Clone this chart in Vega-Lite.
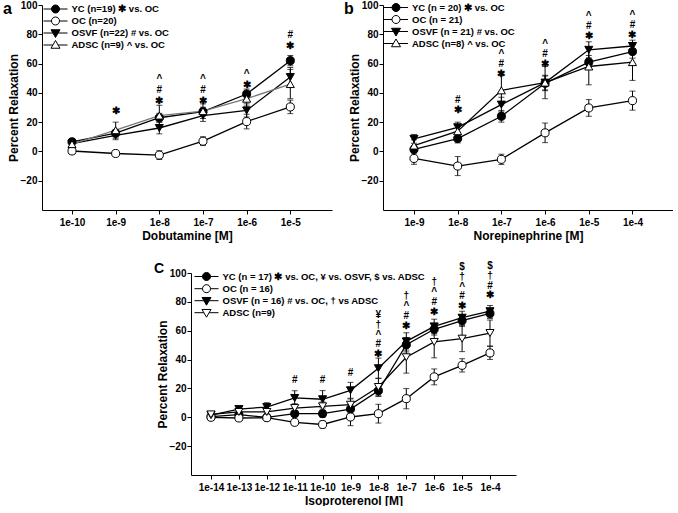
{
  "$schema": "https://vega.github.io/schema/vega-lite/v6.json",
  "background": "white",
  "padding": {"left": 3, "top": 0, "right": 0, "bottom": 0},
  "spacing": 20,
  "vconcat": [
    {
      "hconcat": [
        {
          "width": 290, "height": 205,
          "title": {"text": "a", "dx": -4, "offset": -17},
          "data": {"values": [
            {"g": "YC", "x": -10, "v": 6.6, "e": 1}, {"g": "YC", "x": -9, "v": 12.5, "e": 2.5}, {"g": "YC", "x": -8, "v": 23, "e": 3}, {"g": "YC", "x": -7, "v": 27.2, "e": 3}, {"g": "YC", "x": -6, "v": 39.2, "e": 3.4}, {"g": "YC", "x": -5, "v": 62, "e": 3.5},
            {"g": "OC", "x": -10, "v": 0.3, "e": 1}, {"g": "OC", "x": -9, "v": -1.4, "e": 2}, {"g": "OC", "x": -8, "v": -2.5, "e": 3}, {"g": "OC", "x": -7, "v": 7, "e": 3}, {"g": "OC", "x": -6, "v": 20.4, "e": 5}, {"g": "OC", "x": -5, "v": 30.4, "e": 4.6},
            {"g": "OSVF", "x": -10, "v": 5.4, "e": 1}, {"g": "OSVF", "x": -9, "v": 11, "e": 3}, {"g": "OSVF", "x": -8, "v": 16, "e": 4}, {"g": "OSVF", "x": -7, "v": 24.5, "e": 4}, {"g": "OSVF", "x": -6, "v": 28, "e": 4.5}, {"g": "OSVF", "x": -5, "v": 50.8, "e": 6.5},
            {"g": "ADSC", "x": -10, "v": 5, "e": 1.5}, {"g": "ADSC", "x": -9, "v": 14.5, "e": 5.5}, {"g": "ADSC", "x": -8, "v": 24.5, "e": 7}, {"g": "ADSC", "x": -7, "v": 27.5, "e": 5}, {"g": "ADSC", "x": -6, "v": 36, "e": 5}, {"g": "ADSC", "x": -5, "v": 46, "e": 10}
          ]},
          "encoding": {
            "x": {"field": "x", "type": "quantitative", "scale": {"domain": [-10.687, -4.045], "nice": false, "zero": false}, "axis": {"values": [-10, -9, -8, -7, -6, -5], "labelExpr": "'1e' + datum.value", "title": "Dobutamine [M]"}},
            "y": {"field": "v", "type": "quantitative", "scale": {"domain": [-40, 100], "nice": false, "zero": false}, "axis": {"values": [-20, 0, 20, 40, 60, 80, 100], "labelOverlap": false, "title": "Percent Relaxation"}}
          },
          "layer": [
            {
              "mark": {"type": "errorbar", "ticks": {"size": 6}, "color": "black"},
              "encoding": {"yError": {"field": "e"}}
            },
            {
              "mark": {"type": "line", "strokeWidth": 1.3},
              "encoding": {
                "detail": {"field": "g"},
                "stroke": {"field": "g", "type": "nominal", "scale": {"domain": ["YC", "OC", "OSVF", "ADSC"], "range": ["black", "black", "black", "#777777"]}, "legend": null}
              }
            },
            {
              "mark": {"type": "point", "filled": true, "stroke": "black", "strokeWidth": 1, "size": 65, "opacity": 1},
              "encoding": {
                "shape": {"field": "g", "type": "nominal", "scale": {"domain": ["YC", "OC", "OSVF", "ADSC"], "range": ["circle", "circle", "triangle-down", "triangle-up"]}, "legend": null},
                "fill": {"field": "g", "type": "nominal", "scale": {"domain": ["YC", "OC", "OSVF", "ADSC"], "range": ["black", "white", "black", "white"]}, "legend": null}
              }
            },
            {
              "mark": {"type": "point", "filled": true, "stroke": "black", "strokeWidth": 1, "opacity": 0},
              "encoding": {
                "shape": {"field": "g", "type": "nominal", "scale": {"domain": ["YC", "OC", "OSVF", "ADSC"], "range": ["M-2.67,0H-0.89M0.89,0H2.67M-0.89,0A0.89,0.89,0,1,1,0.89,0A0.89,0.89,0,1,1,-0.89,0Z", "M-2.67,0H-0.89M0.89,0H2.67M-0.89,0A0.89,0.89,0,1,1,0.89,0A0.89,0.89,0,1,1,-0.89,0Z", "M-2.67,0H-0.58M0.58,0H2.67M-1,-0.72L1,-0.72L0,1Z", "M-2.67,0H-0.58M0.58,0H2.67M-1,0.72L1,0.72L0,-1Z"]},
                  "legend": {"orient": "none", "legendX": 8.5, "legendY": -1, "title": null, "symbolSize": 81, "symbolOpacity": 1, "symbolStrokeWidth": 1, "labelOffset": 11, "rowPadding": -2.2, "padding": 0, "labelFontSize": 9.5, "labelFontWeight": "bold", "labelColor": "black", "labelLimit": 400,
                    "labelExpr": "{'YC':'YC (n=19) ✱ vs. OC','OC':'OC (n=20)','OSVF':'OSVF (n=22) # vs. OC','ADSC':'ADSC (n=9) ^ vs. OC'}[datum.label]"}},
                "fill": {"field": "g", "type": "nominal", "scale": {"domain": ["YC", "OC", "OSVF", "ADSC"], "range": ["black", "white", "black", "white"]},
                  "legend": {"orient": "none", "legendX": 8.5, "legendY": -1, "title": null, "symbolSize": 81, "symbolOpacity": 1, "symbolStrokeWidth": 1, "labelOffset": 11, "rowPadding": -2.2, "padding": 0, "labelFontSize": 9.5, "labelFontWeight": "bold", "labelColor": "black", "labelLimit": 400,
                    "labelExpr": "{'YC':'YC (n=19) ✱ vs. OC','OC':'OC (n=20)','OSVF':'OSVF (n=22) # vs. OC','ADSC':'ADSC (n=9) ^ vs. OC'}[datum.label]"}}
              }
            },
            {
              "data": {"values": [
                {"x": -9, "v": 31, "t": "✱"},
                {"x": -8, "v": 53.1, "t": "^\n#\n✱"},
                {"x": -7, "v": 53.1, "t": "^\n#\n✱"},
                {"x": -6, "v": 56.5, "t": "^\n✱"},
                {"x": -5, "v": 82.9, "t": "#\n✱"}
              ]},
              "mark": {"type": "text", "baseline": "top", "align": "center", "fontSize": 10, "fontWeight": "bold", "lineBreak": "\n", "lineHeight": 11, "color": "black"},
              "encoding": {"text": {"field": "t"}}
            }
          ],
          "resolve": {"scale": {"shape": "independent", "fill": "independent"}}
        },
        {
          "width": 290, "height": 205,
          "title": {"text": "b", "dx": -4, "offset": -17},
          "data": {"values": [
            {"g": "YC", "x": -9, "v": 1.4, "e": 2.5}, {"g": "YC", "x": -8, "v": 8.8, "e": 3}, {"g": "YC", "x": -7, "v": 24, "e": 4}, {"g": "YC", "x": -6, "v": 46.5, "e": 5}, {"g": "YC", "x": -5, "v": 61, "e": 4.5}, {"g": "YC", "x": -4, "v": 68.2, "e": 4.5},
            {"g": "OC", "x": -9, "v": -4.8, "e": 4}, {"g": "OC", "x": -8, "v": -10, "e": 6.5}, {"g": "OC", "x": -7, "v": -5.4, "e": 3.5}, {"g": "OC", "x": -6, "v": 12.7, "e": 6.7}, {"g": "OC", "x": -5, "v": 29.7, "e": 5.7}, {"g": "OC", "x": -4, "v": 34.7, "e": 6.5},
            {"g": "OSVF", "x": -9, "v": 8.6, "e": 3}, {"g": "OSVF", "x": -8, "v": 16.5, "e": 3.5}, {"g": "OSVF", "x": -7, "v": 32, "e": 5}, {"g": "OSVF", "x": -6, "v": 47, "e": 5}, {"g": "OSVF", "x": -5, "v": 69.4, "e": 5.5}, {"g": "OSVF", "x": -4, "v": 72, "e": 4},
            {"g": "ADSC", "x": -9, "v": 4, "e": 4}, {"g": "ADSC", "x": -8, "v": 13.8, "e": 4}, {"g": "ADSC", "x": -7, "v": 41.7, "e": 10}, {"g": "ADSC", "x": -6, "v": 47, "e": 11}, {"g": "ADSC", "x": -5, "v": 58, "e": 12.5}, {"g": "ADSC", "x": -4, "v": 61, "e": 12.5}
          ]},
          "encoding": {
            "x": {"field": "x", "type": "quantitative", "scale": {"domain": [-9.709, -3.073], "nice": false, "zero": false}, "axis": {"values": [-9, -8, -7, -6, -5, -4], "labelExpr": "'1e' + datum.value", "title": "Norepinephrine [M]"}},
            "y": {"field": "v", "type": "quantitative", "scale": {"domain": [-40, 100], "nice": false, "zero": false}, "axis": {"values": [-20, 0, 20, 40, 60, 80, 100], "labelOverlap": false, "title": "Percent Relaxation"}}
          },
          "layer": [
            {
              "mark": {"type": "errorbar", "ticks": {"size": 6}, "color": "black"},
              "encoding": {"yError": {"field": "e"}}
            },
            {
              "mark": {"type": "line", "strokeWidth": 1.3, "color": "black"},
              "encoding": {"detail": {"field": "g"}}
            },
            {
              "mark": {"type": "point", "filled": true, "stroke": "black", "strokeWidth": 1, "size": 65, "opacity": 1},
              "encoding": {
                "shape": {"field": "g", "type": "nominal", "scale": {"domain": ["YC", "OC", "OSVF", "ADSC"], "range": ["circle", "circle", "triangle-down", "triangle-up"]}, "legend": null},
                "fill": {"field": "g", "type": "nominal", "scale": {"domain": ["YC", "OC", "OSVF", "ADSC"], "range": ["black", "white", "black", "white"]}, "legend": null}
              }
            },
            {
              "mark": {"type": "point", "filled": true, "stroke": "black", "strokeWidth": 1, "opacity": 0},
              "encoding": {
                "shape": {"field": "g", "type": "nominal", "scale": {"domain": ["YC", "OC", "OSVF", "ADSC"], "range": ["M-2.67,0H-0.89M0.89,0H2.67M-0.89,0A0.89,0.89,0,1,1,0.89,0A0.89,0.89,0,1,1,-0.89,0Z", "M-2.67,0H-0.89M0.89,0H2.67M-0.89,0A0.89,0.89,0,1,1,0.89,0A0.89,0.89,0,1,1,-0.89,0Z", "M-2.67,0H-0.58M0.58,0H2.67M-1,-0.72L1,-0.72L0,1Z", "M-2.67,0H-0.58M0.58,0H2.67M-1,0.72L1,0.72L0,-1Z"]},
                  "legend": {"orient": "none", "legendX": 8, "legendY": -2.5, "title": null, "symbolSize": 81, "symbolOpacity": 1, "symbolStrokeWidth": 1, "labelOffset": 11, "rowPadding": -2.2, "padding": 0, "labelFontSize": 9.5, "labelFontWeight": "bold", "labelColor": "black", "labelLimit": 400,
                    "labelExpr": "{'YC':'YC (n = 20) ✱ vs. OC','OC':'OC (n = 21)','OSVF':'OSVF (n = 21) # vs. OC','ADSC':'ADSC (n=8) ^ vs. OC'}[datum.label]"}},
                "fill": {"field": "g", "type": "nominal", "scale": {"domain": ["YC", "OC", "OSVF", "ADSC"], "range": ["black", "white", "black", "white"]},
                  "legend": {"orient": "none", "legendX": 8, "legendY": -2.5, "title": null, "symbolSize": 81, "symbolOpacity": 1, "symbolStrokeWidth": 1, "labelOffset": 11, "rowPadding": -2.2, "padding": 0, "labelFontSize": 9.5, "labelFontWeight": "bold", "labelColor": "black", "labelLimit": 400,
                    "labelExpr": "{'YC':'YC (n = 20) ✱ vs. OC','OC':'OC (n = 21)','OSVF':'OSVF (n = 21) # vs. OC','ADSC':'ADSC (n=8) ^ vs. OC'}[datum.label]"}}
              }
            },
            {
              "data": {"values": [
                {"x": -8, "v": 38.5, "t": "#\n✱"},
                {"x": -7, "v": 70.2, "t": "^\n#\n✱"},
                {"x": -6, "v": 77, "t": "^\n#\n✱"},
                {"x": -5, "v": 95.9, "t": "^\n#\n✱"},
                {"x": -4, "v": 96.4, "t": "^\n#\n✱"}
              ]},
              "mark": {"type": "text", "baseline": "top", "align": "center", "fontSize": 10, "fontWeight": "bold", "lineBreak": "\n", "lineHeight": 10, "color": "black"},
              "encoding": {"text": {"field": "t"}}
            }
          ],
          "resolve": {"scale": {"shape": "independent", "fill": "independent"}}
        }
      ],
      "spacing": 12
    },
    {
      "hconcat": [
        {
          "width": 111.5, "height": 1,
          "data": {"values": []},
          "mark": {"type": "point", "opacity": 0}
        },
        {
          "width": 325, "height": 202,
          "title": {"text": "C", "dx": -2, "fontSize": 14, "offset": -15},
          "data": {"values": [
            {"g": "YC", "x": -14, "v": 0.5, "e": 1}, {"g": "YC", "x": -13, "v": 1.8, "e": 1.5}, {"g": "YC", "x": -12, "v": 0, "e": 1.5}, {"g": "YC", "x": -11, "v": 2.5, "e": 2}, {"g": "YC", "x": -10, "v": 2.5, "e": 2.5}, {"g": "YC", "x": -9, "v": 5.7, "e": 3}, {"g": "YC", "x": -8, "v": 18.4, "e": 4}, {"g": "YC", "x": -7, "v": 50.3, "e": 5}, {"g": "YC", "x": -6, "v": 61, "e": 4}, {"g": "YC", "x": -5, "v": 67, "e": 4}, {"g": "YC", "x": -4, "v": 72, "e": 3.5},
            {"g": "OC", "x": -14, "v": 0, "e": 1}, {"g": "OC", "x": -13, "v": -0.5, "e": 1}, {"g": "OC", "x": -12, "v": -0.3, "e": 1}, {"g": "OC", "x": -11, "v": -3.5, "e": 2}, {"g": "OC", "x": -10, "v": -5, "e": 2.5}, {"g": "OC", "x": -9, "v": 0.2, "e": 6}, {"g": "OC", "x": -8, "v": 2.5, "e": 6.5}, {"g": "OC", "x": -7, "v": 12.9, "e": 7}, {"g": "OC", "x": -6, "v": 28, "e": 5.5}, {"g": "OC", "x": -5, "v": 36, "e": 4.6}, {"g": "OC", "x": -4, "v": 44.6, "e": 4.5},
            {"g": "OSVF", "x": -14, "v": 1.5, "e": 1}, {"g": "OSVF", "x": -13, "v": 5.7, "e": 1.5}, {"g": "OSVF", "x": -12, "v": 7.1, "e": 3}, {"g": "OSVF", "x": -11, "v": 13.4, "e": 5}, {"g": "OSVF", "x": -10, "v": 12.5, "e": 6}, {"g": "OSVF", "x": -9, "v": 18.7, "e": 5.5}, {"g": "OSVF", "x": -8, "v": 34, "e": 7}, {"g": "OSVF", "x": -7, "v": 52.6, "e": 6}, {"g": "OSVF", "x": -6, "v": 63, "e": 5}, {"g": "OSVF", "x": -5, "v": 69, "e": 4.5}, {"g": "OSVF", "x": -4, "v": 73.5, "e": 4},
            {"g": "ADSC", "x": -14, "v": 2, "e": 1}, {"g": "ADSC", "x": -13, "v": 3.7, "e": 2}, {"g": "ADSC", "x": -12, "v": 3.7, "e": 2}, {"g": "ADSC", "x": -11, "v": 6.4, "e": 3}, {"g": "ADSC", "x": -10, "v": 7.6, "e": 3}, {"g": "ADSC", "x": -9, "v": 8.7, "e": 4}, {"g": "ADSC", "x": -8, "v": 21, "e": 6}, {"g": "ADSC", "x": -7, "v": 41.6, "e": 11}, {"g": "ADSC", "x": -6, "v": 52.2, "e": 11}, {"g": "ADSC", "x": -5, "v": 54.5, "e": 9}, {"g": "ADSC", "x": -4, "v": 58.4, "e": 9}
          ]},
          "encoding": {
            "x": {"field": "x", "type": "quantitative", "scale": {"domain": [-14.717, -3.068], "nice": false, "zero": false}, "axis": {"values": [-14, -13, -12, -11, -10, -9, -8, -7, -6, -5, -4], "labelExpr": "'1e' + datum.value", "title": "Isoproterenol [M]"}},
            "y": {"field": "v", "type": "quantitative", "scale": {"domain": [-40, 100], "nice": false, "zero": false}, "axis": {"values": [-20, 0, 20, 40, 60, 80, 100], "labelOverlap": false, "title": "Percent Relaxation"}}
          },
          "layer": [
            {
              "mark": {"type": "errorbar", "ticks": {"size": 6}, "color": "black"},
              "encoding": {"yError": {"field": "e"}}
            },
            {
              "mark": {"type": "line", "strokeWidth": 1.3, "color": "black"},
              "encoding": {"detail": {"field": "g"}}
            },
            {
              "mark": {"type": "point", "filled": true, "stroke": "black", "strokeWidth": 1, "size": 65, "opacity": 1},
              "encoding": {
                "shape": {"field": "g", "type": "nominal", "scale": {"domain": ["YC", "OC", "OSVF", "ADSC"], "range": ["circle", "circle", "triangle-down", "triangle-down"]}, "legend": null},
                "fill": {"field": "g", "type": "nominal", "scale": {"domain": ["YC", "OC", "OSVF", "ADSC"], "range": ["black", "white", "black", "white"]}, "legend": null}
              }
            },
            {
              "mark": {"type": "point", "filled": true, "stroke": "black", "strokeWidth": 1, "opacity": 0},
              "encoding": {
                "shape": {"field": "g", "type": "nominal", "scale": {"domain": ["YC", "OC", "OSVF", "ADSC"], "range": ["M-2.67,0H-0.89M0.89,0H2.67M-0.89,0A0.89,0.89,0,1,1,0.89,0A0.89,0.89,0,1,1,-0.89,0Z", "M-2.67,0H-0.89M0.89,0H2.67M-0.89,0A0.89,0.89,0,1,1,0.89,0A0.89,0.89,0,1,1,-0.89,0Z", "M-2.67,0H-0.58M0.58,0H2.67M-1,-0.72L1,-0.72L0,1Z", "M-2.67,0H-0.58M0.58,0H2.67M-1,-0.72L1,-0.72L0,1Z"]},
                  "legend": {"orient": "none", "legendX": 10.5, "legendY": -1.5, "title": null, "symbolSize": 81, "symbolOpacity": 1, "symbolStrokeWidth": 1, "labelOffset": 11, "rowPadding": -1.8, "padding": 0, "labelFontSize": 9.5, "labelFontWeight": "bold", "labelColor": "black", "labelLimit": 400,
                    "labelExpr": "{'YC':'YC (n = 17) ✱ vs. OC, ¥ vs. OSVF, $ vs. ADSC','OC':'OC (n = 16)','OSVF':'OSVF (n = 16) # vs. OC, † vs ADSC','ADSC':'ADSC (n=9)'}[datum.label]"}},
                "fill": {"field": "g", "type": "nominal", "scale": {"domain": ["YC", "OC", "OSVF", "ADSC"], "range": ["black", "white", "black", "white"]},
                  "legend": {"orient": "none", "legendX": 10.5, "legendY": -1.5, "title": null, "symbolSize": 81, "symbolOpacity": 1, "symbolStrokeWidth": 1, "labelOffset": 11, "rowPadding": -1.8, "padding": 0, "labelFontSize": 9.5, "labelFontWeight": "bold", "labelColor": "black", "labelLimit": 400,
                    "labelExpr": "{'YC':'YC (n = 17) ✱ vs. OC, ¥ vs. OSVF, $ vs. ADSC','OC':'OC (n = 16)','OSVF':'OSVF (n = 16) # vs. OC, † vs ADSC','ADSC':'ADSC (n=9)'}[datum.label]"}}
              }
            },
            {
              "data": {"values": [
                {"x": -11, "v": 29.5, "t": "#"},
                {"x": -10, "v": 29.5, "t": "#"},
                {"x": -9, "v": 34, "t": "#"},
                {"x": -8, "v": 74.4, "t": "¥\n†\n^\n#\n✱"},
                {"x": -7, "v": 87.3, "t": "†\n^\n#\n✱"},
                {"x": -6, "v": 97, "t": "†\n^\n#\n✱"},
                {"x": -5, "v": 107.6, "t": "$\n†\n^\n#\n✱"},
                {"x": -4, "v": 108.3, "t": "$\n†\n#\n✱"}
              ]},
              "mark": {"type": "text", "baseline": "top", "align": "center", "fontSize": 10, "fontWeight": "bold", "lineBreak": "\n", "lineHeight": 9.8, "color": "black"},
              "encoding": {"text": {"field": "t"}}
            }
          ],
          "resolve": {"scale": {"shape": "independent", "fill": "independent"}}
        }
      ],
      "spacing": 0
    }
  ],
  "config": {
    "font": "Liberation Sans",
    "view": {"stroke": null},
    "axis": {"grid": false, "domainColor": "black", "domainWidth": 1, "tickColor": "black", "tickSize": 4, "labelColor": "black", "labelFontSize": 10, "labelFontWeight": "bold", "labelPadding": 1, "labelOverlap": false, "labelFlush": false, "titleColor": "black", "titleFontSize": 12, "titleFontWeight": "bold", "titlePadding": 0},
    "axisX": {"labelPadding": 3, "titlePadding": 3},
    "title": {"fontSize": 16, "fontWeight": "bold", "color": "black", "anchor": "start", "frame": "bounds", "baseline": "top", "offset": 0}
  }
}
